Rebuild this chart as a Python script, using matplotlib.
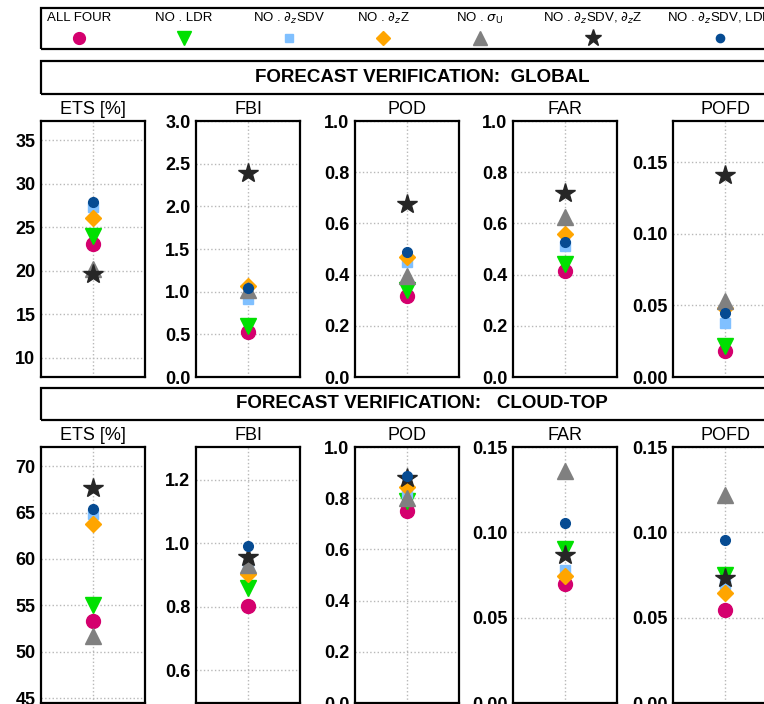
import matplotlib
matplotlib.use("Agg")
import matplotlib.pyplot as plt
from matplotlib.patches import Rectangle
from matplotlib.ticker import FormatStrFormatter

plt.rcParams["font.family"] = ["Liberation Sans", "DejaVu Sans"]

# experiments (legend order = drawing order)
experiments = ["ALL FOUR", "NO . LDR", r"NO . $\partial_z$SDV", r"NO . $\partial_z$Z",
               r"NO . $\sigma_\mathrm{U}$", r"NO . $\partial_z$SDV, $\partial_z$Z",
               r"NO . $\partial_z$SDV, LDR"]
colors = ["#d4006e", "#00e000", "#80c0ff", "#ffa500", "#808080", "#262626", "#064b92"]
markers = ["o", "v", "s", "D", "^", "*", "o"]
sizes = [10, 12, 7.5, 8.5, 12, 15, 7]

metrics = ["ETS [%]", "FBI", "POD", "FAR", "POFD"]

global_ets = [23.1, 24.0, 27.3, 26.1, 20.2, 19.6, 27.9]
global_fbi = [0.53, 0.60, 0.91, 1.07, 1.02, 2.39, 1.04]
global_pod = [0.315, 0.34, 0.45, 0.47, 0.395, 0.676, 0.49]
global_far = [0.414, 0.44, 0.51, 0.56, 0.625, 0.72, 0.528]
global_pofd = [0.018, 0.022, 0.038, 0.048, 0.053, 0.141, 0.045]

cloud_ets = [53.3, 55.0, 64.8, 63.8, 51.7, 67.6, 65.4]
cloud_fbi = [0.803, 0.86, 0.92, 0.903, 0.93, 0.958, 0.993]
cloud_pod = [0.75, 0.79, 0.82, 0.845, 0.80, 0.88, 0.887]
cloud_far = [0.070, 0.0904, 0.078, 0.0743, 0.136, 0.0865, 0.1057]
cloud_pofd = [0.0545, 0.075, 0.070, 0.0644, 0.122, 0.073, 0.0957]

global_vals = [global_ets, global_fbi, global_pod, global_far, global_pofd]
cloud_vals = [cloud_ets, cloud_fbi, cloud_pod, cloud_far, cloud_pofd]

global_ylims = [(7.8, 37.2), (0, 3), (0, 1), (0, 1), (0, 0.179)]
global_ticks = [[10, 15, 20, 25, 30, 35], [0, 0.5, 1, 1.5, 2, 2.5, 3],
                [0, .2, .4, .6, .8, 1], [0, .2, .4, .6, .8, 1], [0, .05, .1, .15]]
cloud_ylims = [(44.5, 72.05), (0.496, 1.304), (0, 1), (0, 0.15), (0, 0.15)]
cloud_ticks = [[45, 50, 55, 60, 65, 70], [0.6, 0.8, 1.0, 1.2],
               [0, .2, .4, .6, .8, 1], [0, .05, .1, .15], [0, .05, .1, .15]]
fmts = ["%d", "%.1f", "%.1f", "%.1f", "%.2f"]
cloud_fmts = ["%d", "%.1f", "%.1f", "%.2f", "%.2f"]

W, H = 764, 704
fig = plt.figure(figsize=(W / 100, H / 100), dpi=100)


def px(x0, y0, w, h):
    """ Pixel box (top-left origin) -> figure fraction rect. """
    return [x0 / W, 1 - (y0 + h) / H, w / W, h / H]


def box(x0, y0, w, h):
    fig.patches.append(Rectangle((x0 / W, 1 - (y0 + h) / H), w / W, h / H,
                                 transform=fig.transFigure, fill=False,
                                 edgecolor="black", linewidth=1.6))


lefts = [41, 196, 355, 513, 673]


def panel_row(top, values, ylims, ticks, formats):
    for i in range(5):
        ax = fig.add_axes(px(lefts[i], top, 104, 256))
        for j in range(len(experiments)):
            ax.plot([0], [values[i][j]], linestyle="none", marker=markers[j],
                    color=colors[j], markersize=sizes[j], zorder=3 + j)
        ax.set_xlim(-1, 1)
        ax.set_ylim(*ylims[i])
        ax.set_yticks(ticks[i])
        ax.yaxis.set_major_formatter(FormatStrFormatter(formats[i]))
        ax.set_xticks([])
        ax.axvline(0, color="#b8b8b8", linestyle=":", linewidth=1, zorder=1)
        ax.grid(axis="y", color="#b8b8b8", linestyle=":", linewidth=1, zorder=1)
        ax.tick_params(axis="y", length=0, pad=4, labelsize=13)
        for lab in ax.get_yticklabels():
            lab.set_fontweight("bold")
        for sp in ax.spines.values():
            sp.set_linewidth(1.6)
        ax.set_title(metrics[i], fontsize=13, pad=5)


panel_row(121, global_vals, global_ylims, global_ticks, fmts)
panel_row(447, cloud_vals, cloud_ylims, cloud_ticks, cloud_fmts)

# legend box
box(41, 8, 760, 41)
leg_x = [79, 184, 289, 383, 480, 593, 720]
for j, name in enumerate(experiments):
    fig.text(leg_x[j] / W, 1 - 18 / H, name, ha="center", va="center", fontsize=9.5)
    fig.lines.append(plt.Line2D([leg_x[j] / W], [1 - 38 / H], transform=fig.transFigure,
                                linestyle="none", marker=markers[j], color=colors[j],
                                markersize=sizes[j] * 0.85))

# section headers
box(41, 61, 760, 33)
fig.text(422 / W, 1 - 78 / H, "FORECAST VERIFICATION:  GLOBAL", ha="center",
         va="center", fontsize=13.5, fontweight="bold")
box(41, 388, 760, 32)
fig.text(422 / W, 1 - 404 / H, "FORECAST VERIFICATION:   CLOUD-TOP", ha="center",
         va="center", fontsize=13.5, fontweight="bold")

fig.savefig("out.png", dpi=100)
